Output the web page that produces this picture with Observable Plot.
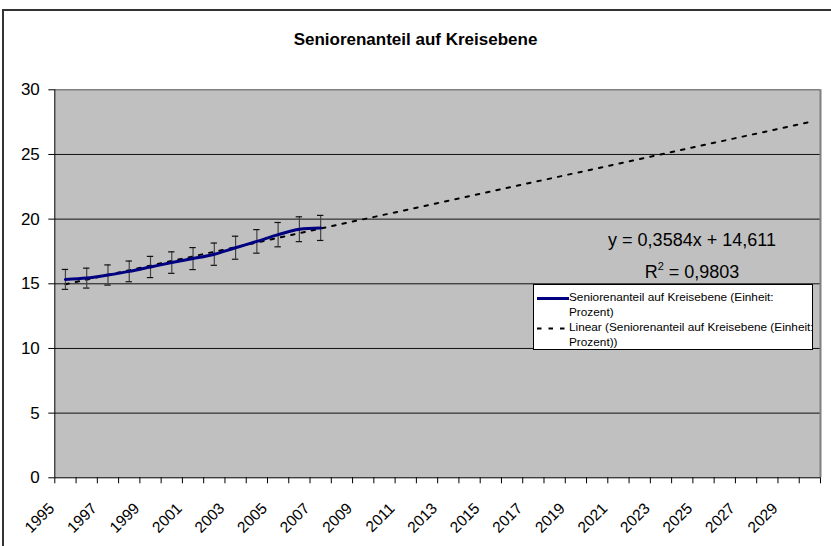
<!DOCTYPE html>
<html><head><meta charset="utf-8">
<script src="https://cdn.jsdelivr.net/npm/d3@7"></script>
<script src="https://cdn.jsdelivr.net/npm/@observablehq/plot@0.6"></script>
<style>
body{margin:0;width:831px;height:546px;overflow:hidden;background:#fff;font-family:"Liberation Sans",Arial,sans-serif;position:relative}
#frame{position:absolute;left:2px;top:9px;width:900px;height:700px;border-left:2px solid #333;border-top:2px solid #333}
#chart{position:absolute;left:0;top:0}
#title{position:absolute;left:0;width:831px;top:30px;text-align:center;font-weight:bold;font-size:17px;line-height:20px;color:#000}
.eq{position:absolute;width:300px;left:542px;text-align:center;font-size:18px;line-height:20px;color:#000}
.eq sup{font-size:11px;line-height:0;position:relative;top:-1px}
#legend{position:absolute;left:533px;top:284px;width:278px;height:64px;border:1px solid #000;background:#fff}
#legend .t{position:absolute;left:35px;font-size:11.8px;line-height:15px;color:#000;white-space:nowrap}
#legend svg{position:absolute;left:0;top:0}
</style></head>
<body>
<div id="frame"></div>
<div id="chart"></div>
<div id="title">Seniorenanteil auf Kreisebene</div>
<div class="eq" style="top:230px">y = 0,3584x + 14,611</div>
<div class="eq" style="top:262px">R<sup>2</sup> = 0,9803</div>
<div id="legend">
  <svg width="40" height="64">
    <line x1="3" x2="35" y1="13.5" y2="13.5" stroke="#000080" stroke-width="3"/>
    <line x1="3" x2="35" y1="43.5" y2="43.5" stroke="#000" stroke-width="2" stroke-dasharray="4.5,7"/>
  </svg>
  <div class="t" style="top:5px">Seniorenanteil auf Kreisebene (Einheit:<br>Prozent)</div>
  <div class="t" style="top:35px">Linear (Seniorenanteil auf Kreisebene (Einheit:<br>Prozent))</div>
</div>
<script>
// Data
const years = [1995,1996,1997,1998,1999,2000,2001,2002,2003,2004,2005,2006,2007];
const values = [15.34,15.44,15.68,15.96,16.30,16.64,16.95,17.29,17.79,18.28,18.80,19.22,19.32];
const errors = [0.77,0.77,0.78,0.80,0.82,0.83,0.85,0.86,0.89,0.91,0.94,0.96,0.97];
const firstCategory = 1995;
const lastCategory = 2030;
const xTickLabels = ["1995","1997","1999","2001","2003","2005","2007","2009","2011","2013","2015","2017","2019","2021","2023","2025","2027","2029"];
const yTicks = [0,5,10,15,20,25,30];
const trendSlope = 0.3584;
const trendIntercept = 14.611;

const nCat = lastCategory - firstCategory + 1;
const idx = y => y - firstCategory + 1;
const series = years.map((y,i) => ({x: idx(y), v: values[i], lo: values[i]-errors[i], hi: values[i]+errors[i]}));
const trend = [1, nCat].map(x => ({x, v: trendSlope*x + trendIntercept}));
const boundaries = d3.range(0, nCat + 1).map(k => k + 0.5);
const labels = xTickLabels.map(s => ({x: idx(+s) - 0.5, s}));
const capHalf = 0.15;

const chart = Plot.plot({
  width: 831, height: 546,
  marginLeft: 54.3, marginRight: 11, marginTop: 89.3, marginBottom: 68.7,
  style: {fontFamily: '"Liberation Sans", Arial, sans-serif', fontSize: "17px", background: "transparent", overflow: "visible", color: "#000"},
  x: {type: "linear", domain: [0.5, nCat + 0.5]},
  y: {domain: [0, 30]},
  marks: [
    Plot.frame({fill: "#c0c0c0", stroke: null}),
    Plot.ruleY([5,10,15,20,25], {stroke: "#111", strokeWidth: 1}),
    Plot.ruleY([30], {stroke: "#808080", strokeWidth: 1.5}),
    Plot.ruleX([nCat + 0.5], {stroke: "#808080", strokeWidth: 2}),
    Plot.ruleX([0.5], {stroke: "#000", strokeWidth: 1}),
    Plot.ruleY([0], {stroke: "#000", strokeWidth: 1}),
    Plot.axisY({ticks: yTicks, tickSize: 6, tickPadding: 9, label: null, fontSize: 17}),
    Plot.axisX({ticks: boundaries, tickSize: 6, tickFormat: () => "", label: null}),
    Plot.text(labels, {x: "x", y: 0, text: "s", rotate: -45, textAnchor: "end", lineAnchor: "middle", dy: 28, dx: -3, fontSize: 15.5}),
    Plot.line(trend, {x: "x", y: "v", stroke: "#000", strokeWidth: 2, strokeDasharray: "3.5,7"}),
    Plot.ruleX(series, {x: "x", y1: "lo", y2: "hi", stroke: "#444", strokeWidth: 1.2}),
    Plot.ruleY(series, {y: "hi", x1: d => d.x - capHalf, x2: d => d.x + capHalf, stroke: "#111", strokeWidth: 1.2}),
    Plot.ruleY(series, {y: "lo", x1: d => d.x - capHalf, x2: d => d.x + capHalf, stroke: "#111", strokeWidth: 1.2}),
    Plot.line(series, {x: "x", y: "v", stroke: "#000080", strokeWidth: 3, curve: "catmull-rom"})
  ]
});
document.getElementById("chart").appendChild(chart);
</script>
</body></html>
